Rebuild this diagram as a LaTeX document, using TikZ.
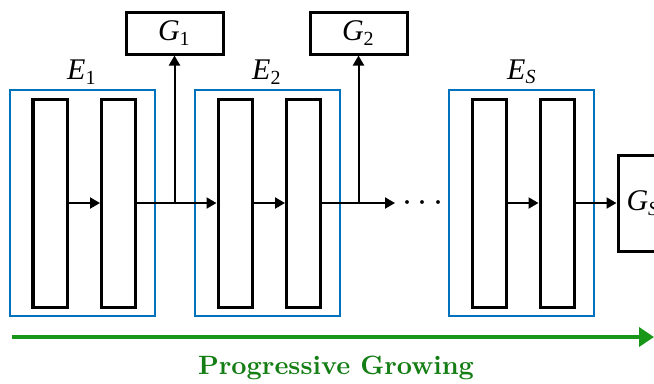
\documentclass[tikz,border=0pt]{standalone}
\usepackage{amsmath,amssymb}
\usepackage{fontspec}
\newfontfamily\labelfont{Liberation Serif}
\usetikzlibrary{arrows.meta,calc}
\definecolor{encblue}{RGB}{0,114,189}
\definecolor{growgreen}{RGB}{24,150,24}
\definecolor{textgreen}{RGB}{20,125,20}
\newcommand{\blk}[2]{{\labelfont\itshape #1\textsubscript{#2}}}

\begin{document}
\begin{tikzpicture}[x=0.4pt,y=-0.4pt,
  font=\fontsize{12}{14}\selectfont,
  layer/.style={draw,line width=1.2pt,minimum width=13.6pt,minimum height=83.2pt,inner sep=0pt},
  enc/.style={draw=encblue,line width=0.8pt,minimum width=58pt,minimum height=90.4pt,inner sep=0pt},
  gen/.style={draw,line width=1.2pt,minimum width=38.8pt,minimum height=16.8pt,inner sep=0pt},
  flow/.style={line width=0.8pt,-{Triangle[length=4pt,width=4.4pt]}}]
\useasboundingbox (0,0) rectangle (654,383);
% encoder blocks
\node[enc] (enc1) at (82.5,203) {};
\node[enc] (enc2) at (267.5,203) {};
\node[enc] (encS) at (521.5,203) {};
\node[layer] (l11) at (50,203) {};
\node[layer] (l12) at (118.5,203) {};
\node[layer] (l21) at (235,203) {};
\node[layer] (l22) at (303.5,203) {};
\node[layer] (lS1) at (489,203) {};
\node[layer] (lS2) at (557,203) {};
\node (e1) at (82,72) {\blk{E}{\upshape 1}};
\node (e2) at (267,72) {\blk{E}{\upshape 2}};
\node (eS) at (522,72) {\blk{E}{S}};
% generators
\node[gen] (g1) at (174.5,33) {\blk{G}{\upshape 1}};
\node[gen] (g2) at (358.5,33) {\blk{G}{\upshape 2}};
\node[draw,line width=1.2pt,minimum width=20pt,minimum height=38.4pt,inner sep=0pt] (gS) at (643,203) {\blk{G}{S}};
\node[inner sep=0pt,font=\fontsize{14}{16}\selectfont] (dots) at (426,203) {$\cdots$};
\coordinate (b1) at (g1.south |- l12.east);
\coordinate (b2) at (g2.south |- l22.east);
% connections
\draw[flow] (l11.east) -- (l12.west);
\draw[flow] (l12.east) -- (l21.west);
\draw[flow] (b1) -- (g1.south);
\draw[flow] (l21.east) -- (l22.west);
\draw[flow,shorten >=2.6pt] (l22.east) -- (dots.west);
\draw[flow] (b2) -- (g2.south);
\draw[flow] (lS1.east) -- (lS2.west);
\draw[flow] (lS2.east) -- (gS.west);
% progressive growing
\coordinate (pg0) at (12,337);
\coordinate (pg1) at (654,337);
\draw[growgreen,line width=1.6pt,-{Triangle[length=6pt,width=7.6pt]}] (pg0) -- (pg1);
\node[text=textgreen,font=\fontsize{10.6}{12}\selectfont\bfseries] (pg) at (336,368) {Progressive Growing};
\end{tikzpicture}
\end{document}
